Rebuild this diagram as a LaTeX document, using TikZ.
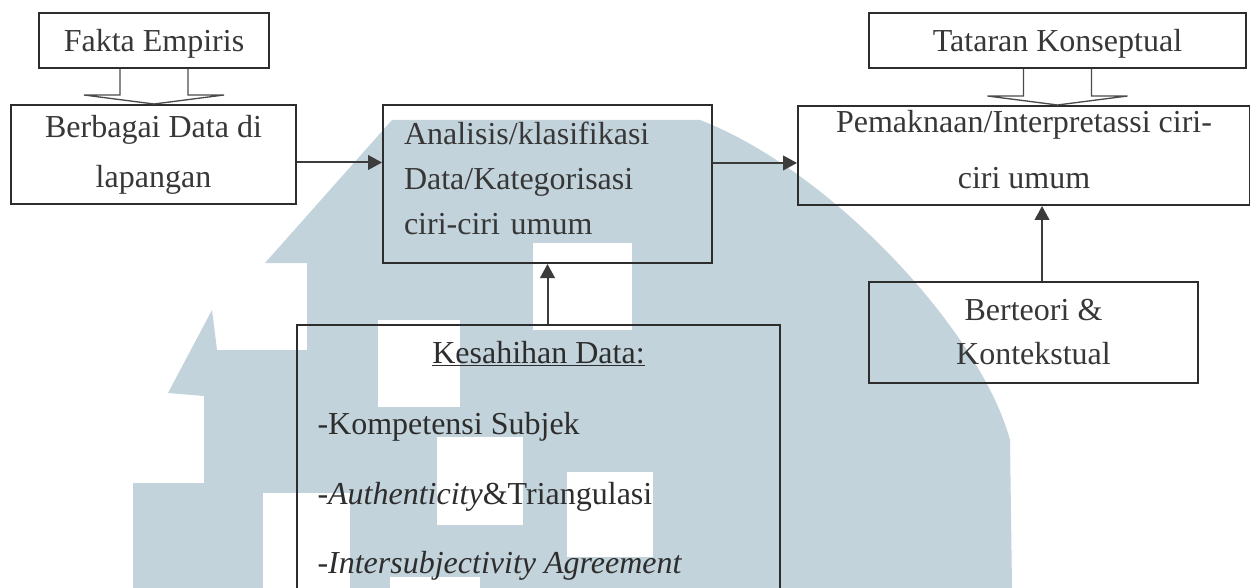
\documentclass[tikz,border=0pt]{standalone}
\usepackage{fontspec}
\setmainfont{Liberation Serif}
\usetikzlibrary{arrows.meta,calc}

\tikzset{every picture/.style={line width=0.75pt}}
\tikzset{
  flowbox/.style={draw={rgb, 255:red, 45; green, 45; blue, 45}, line width=1.5pt, rectangle, inner sep=0pt, anchor=north west, text={rgb, 255:red, 55; green, 55; blue, 55}, font=\fontsize{24}{33.75}\selectfont, align=center},
  boxtext/.style={text={rgb, 255:red, 45; green, 45; blue, 45}, inner sep=0pt, font=\fontsize{24}{33.75}\selectfont},
  conn/.style={draw={rgb, 255:red, 60; green, 60; blue, 60}, line width=1.5pt, -{Triangle[length=10.5pt,width=11pt]}},
  hollow/.style={draw={rgb, 255:red, 75; green, 75; blue, 75}, line width=1pt},
  wm/.style={fill={rgb, 255:red, 194; green, 211; blue, 219}},
}

% hollow block arrow from the bottom of #1 to the top of #2
\newcommand{\hollowarrow}[2]{%
  \draw [hollow] ($(#1.south)+(-34,0)$) -- ($(#1.south |- #2.north)+(-34,-9)$) -- ++(-36,0)
    -- (#1.south |- #2.north) -- ($(#1.south |- #2.north)+(70,-9)$) -- ++(-36,0) -- ($(#1.south)+(34,0)$) ;}

\begin{document}
\begin{tikzpicture}[x=0.75pt,y=0.75pt,yscale=-1,xscale=1]
        \clip (0,0) rectangle (1250,588);

        %Watermark
        \fill [wm] (133,588) -- (133,483) -- (204,483) -- (204,396) -- (168,393) -- (212,310) -- (217,350) -- (307,350) -- (307,263) -- (265,263) -- (392,120) -- (700,120) .. controls (830,170) and (980,330) .. (1010,440) -- (1012,588) -- cycle ;
        \fill [white] (378,320) rectangle (460,407) ;
        \fill [white] (437,437) rectangle (523,525) ;
        \fill [white] (567,472) rectangle (653,557) ;
        \fill [white] (263,493) rectangle (350,588) ;
        \fill [white] (390,577) rectangle (480,588) ;
        \fill [white] (533,243) rectangle (632,330) ;

        % Boxes
        \node [flowbox, minimum width=172.5pt, minimum height=41.25pt, text depth=0pt] (fakta) at (38,12) {Fakta Empiris};
        \node [flowbox, minimum width=213.75pt, minimum height=74.25pt, font=\fontsize{24}{37.5}\selectfont] (berbagai) at (10,104) {Berbagai Data di\\lapangan};
        \node [flowbox, minimum width=246.75pt, minimum height=118.5pt, align=left, text width=215.25pt, text depth=76.5pt] (analisis) at (382,104) {Analisis/klasifikasi\\Data/Kategorisasi\\ciri-ciri umum};
        \node [flowbox, minimum width=282.75pt, minimum height=41.25pt, text depth=0pt] (tataran) at (868,12) {Tataran Konseptual};
        \node [flowbox, minimum width=339pt, minimum height=74.25pt, font=\fontsize{24}{42}\selectfont, text depth=9.75pt] (pemaknaan) at (797,105) {Pemaknaan/Interpretassi ciri-\\ciri umum};
        \node [flowbox, minimum width=246.75pt, minimum height=75.75pt, font=\fontsize{24}{33}\selectfont] (berteori) at (868,281) {Berteori \&\\Kontekstual};
        \node [flowbox, minimum width=362.25pt, minimum height=225pt] (kesahihan) at (296,324) {};

        % Text in the Kesahihan box
        \node [boxtext, anchor=base] (kestitle) at ($(kesahihan.north)+(0,39)$) {\underline{Kesahihan Data:}};
        \node [boxtext, anchor=base west] (kompetensi) at ($(kesahihan.north west)+(21,110)$) {-Kompetensi Subjek};
        \node [boxtext, anchor=base west] (autentik) at ($(kesahihan.north west)+(21,180)$) {-\textit{Authenticity}\&Triangulasi};
        \node [boxtext, anchor=base west] (intersubjek) at ($(kesahihan.north west)+(21,249)$) {-\textit{Intersubjectivity Agreement}};

        % Hollow arrows
        \hollowarrow{fakta}{berbagai}
        \hollowarrow{tataran}{pemaknaan}

        % Connectors
        \coordinate (bt) at ([yshift=6pt]berbagai.east);
        \draw [conn] (bt) -- (bt -| analisis.west) ;
        \coordinate (pt) at ([yshift=5.6pt]pemaknaan.west);
        \draw [conn] (pt -| analisis.east) -- (pt) ;
        \draw [conn] (analisis.south |- kesahihan.north) -- (analisis.south) ;
        \coordinate (br) at ([xshift=6.4pt]berteori.north);
        \draw [conn] (br) -- (br |- pemaknaan.south) ;
\end{tikzpicture}
\end{document}
